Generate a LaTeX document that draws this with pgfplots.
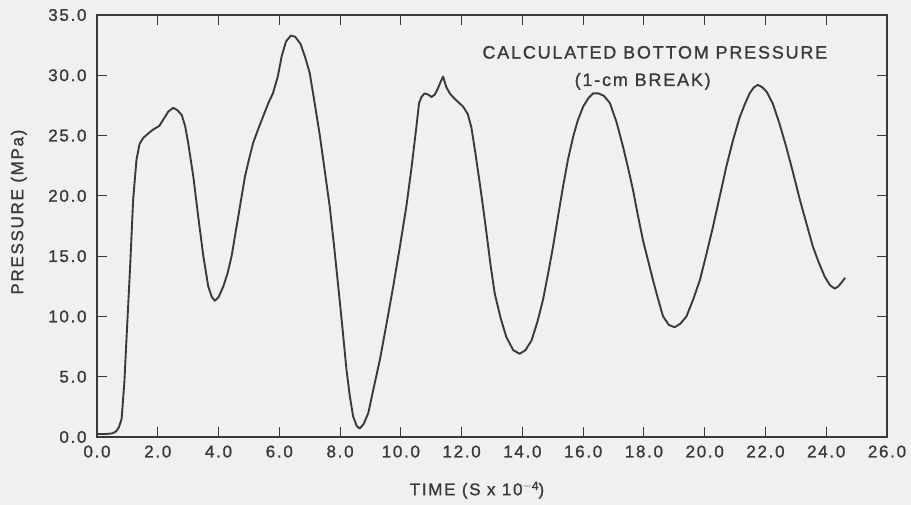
\documentclass[border=0pt]{standalone}
\usepackage{fontspec}
\setmainfont{Liberation Sans}[LetterSpace=10, FakeBold=1.2]
\usepackage{pgfplots}
\pgfplotsset{compat=1.18}
\definecolor{bg}{RGB}{240,240,240}
\definecolor{ink}{RGB}{58,58,58}
\pgfplotstableread{
t p
0.00 0.25
0.30 0.25
0.50 0.30
0.62 0.45
0.72 0.80
0.81 1.50
0.90 4.50
0.98 8.60
1.09 14.1
1.19 19.7
1.30 23.0
1.40 24.3
1.52 24.8
1.70 25.2
1.85 25.5
2.05 25.8
2.20 26.4
2.35 27.0
2.51 27.3
2.65 27.1
2.79 26.7
2.90 25.8
3.00 24.4
3.17 21.6
3.33 18.3
3.50 15.0
3.66 12.5
3.78 11.6
3.88 11.3
4.00 11.6
4.16 12.5
4.30 13.6
4.43 15.0
4.65 18.3
4.87 21.6
5.00 23.0
5.14 24.4
5.30 25.5
5.47 26.6
5.64 27.7
5.79 28.5
5.95 29.9
6.08 31.6
6.22 32.8
6.38 33.3
6.52 33.2
6.70 32.6
6.85 31.5
7.00 30.2
7.17 27.6
7.34 24.9
7.50 22.0
7.66 19.1
7.80 15.9
7.94 12.5
8.08 9.0
8.21 5.6
8.32 3.4
8.43 1.7
8.55 0.9
8.65 0.7
8.78 1.1
8.93 2.0
9.10 4.0
9.31 6.4
9.53 9.4
9.75 12.5
9.97 15.8
10.18 19.1
10.35 22.3
10.51 25.7
10.60 27.7
10.68 28.2
10.78 28.5
10.90 28.4
11.01 28.2
11.12 28.4
11.20 28.8
11.30 29.4
11.39 29.9
11.50 29.0
11.61 28.5
11.75 28.1
11.88 27.8
12.05 27.4
12.20 26.8
12.32 25.7
12.45 23.6
12.60 21.0
12.72 18.8
12.82 16.9
12.95 14.3
13.09 11.9
13.28 9.9
13.47 8.3
13.70 7.2
13.91 6.9
14.10 7.2
14.30 8.0
14.50 9.6
14.68 11.4
14.85 13.6
15.01 15.8
15.18 18.4
15.34 20.8
15.50 23.0
15.67 24.9
15.83 26.3
16.00 27.4
16.17 28.1
16.33 28.5
16.50 28.5
16.68 28.3
16.88 27.7
17.10 26.1
17.31 24.1
17.48 22.3
17.64 20.5
17.80 18.4
17.97 16.3
18.14 14.6
18.30 13.0
18.47 11.4
18.63 10.0
18.82 9.3
19.01 9.1
19.20 9.4
19.40 10.0
19.62 11.4
19.84 13.0
20.05 15.1
20.27 17.4
20.49 19.9
20.71 22.4
20.93 24.6
21.15 26.5
21.32 27.6
21.48 28.5
21.62 29.0
21.75 29.2
21.90 29.0
22.05 28.6
22.25 27.6
22.46 26.0
22.68 24.1
22.90 22.0
23.13 19.7
23.35 17.7
23.56 15.8
23.75 14.5
23.95 13.3
24.12 12.6
24.28 12.3
24.40 12.5
24.50 12.8
24.62 13.2
}\pressure
\begin{document}
\begin{tikzpicture}
\path[use as bounding box, fill=bg] (-97pt,-68pt) rectangle (814pt,437pt);
\begin{axis}[
  at={(0,0)}, anchor=south west,
  scale only axis, width=790pt, height=422pt,
  xmin=0, xmax=26, ymin=0, ymax=35,
  xtick={0,2,...,26}, ytick={0,5,...,35},
  tick align=inside, major tick length=10pt,
  /pgf/number format/assume math mode=true,
  /pgf/number format/fixed, /pgf/number format/fixed zerofill, /pgf/number format/precision=1,
  tick label style={font=\fontsize{17}{19}\selectfont, color=ink},
  yticklabel style={xshift=-7pt},
  xticklabel style={yshift=-5pt},
  axis line style={ink, line width=1.1pt},
  every tick/.style={ink, line width=1.1pt},
  xlabel={TIME (S x 10\raisebox{0.6ex}{\fontsize{12}{13}\selectfont $-$4})},
  ylabel={PRESSURE (MPa)},
  label style={font=\fontsize{17}{19}\selectfont, color=ink},
  xlabel style={at={(axis description cs:0.481,-0.126)}, anchor=center},
  ylabel style={at={(axis description cs:-0.099,0.533)}, anchor=center},
  clip=false,
]
\addplot[ink, line width=1.9pt, line join=round] table[x=t, y=p] {\pressure};
\node[font=\fontsize{18}{20}\selectfont, color=ink] at (axis cs:18.36,31.9) {CALCULATED BOTTOM PRESSURE};
\node[font=\fontsize{18}{20}\selectfont, color=ink] at (axis cs:17.96,29.5) {(1-cm BREAK)};
\end{axis}
\end{tikzpicture}
\end{document}
